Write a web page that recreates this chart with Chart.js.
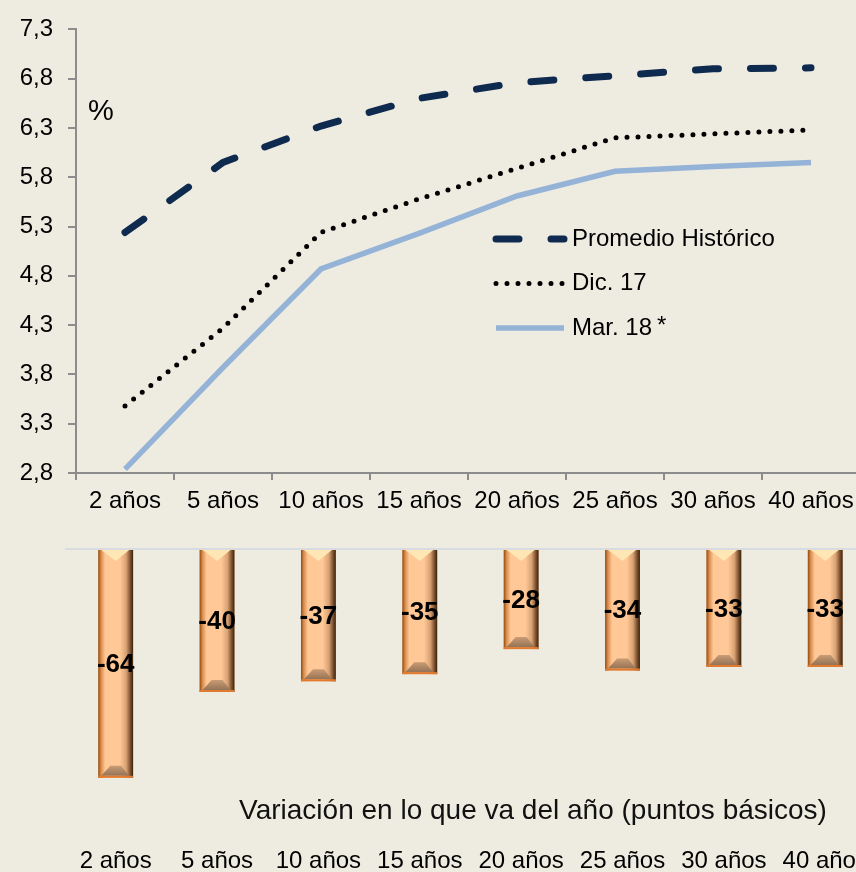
<!DOCTYPE html>
<html>
<head>
<meta charset="utf-8">
<script src="https://cdn.jsdelivr.net/npm/chart.js@4"></script>
<style>
  html, body { margin:0; padding:0; width:856px; height:872px; overflow:hidden; background:#EEECE1; position:relative;
    font-family:'Liberation Sans', Arial, sans-serif; }
  #wrap-top { position:absolute; left:0; top:0; }
  #wrap-bot { position:absolute; left:0; top:530px; }
  .pct { position:absolute; left:88px; top:96px; font-size:29px; line-height:1; color:#000; }
  .sub { position:absolute; left:0; width:1066px; top:796px; text-align:center; font-size:28px; line-height:1; color:#111; }
</style>
</head>
<body>
<div id="wrap-top"><canvas id="curva" width="862" height="530"></canvas></div>
<div class="pct">%</div>
<div id="wrap-bot"><canvas id="variacion" width="880" height="342"></canvas></div>
<div class="sub">Variación en lo que va del año (puntos básicos)</div>

<script>
// ── Data ──────────────────────────────────────────────────────────────────────
const plazos = ['2 años','5 años','10 años','15 años','20 años','25 años','30 años','40 años'];
const promedioHistorico = [5.24, 5.95, 6.32, 6.60, 6.76, 6.83, 6.90, 6.91];
const dic17  = [3.48, 4.27, 5.24, 5.58, 5.89, 6.20, 6.24, 6.28];
const mar18  = [2.84, 3.87, 4.87, 5.23, 5.61, 5.86, 5.91, 5.95];
const yTicks = [2.8, 3.3, 3.8, 4.3, 4.8, 5.3, 5.8, 6.3, 6.8, 7.3];
const variacionPb = [-64, -40, -37, -35, -28, -34, -33, -33];

Chart.defaults.font.family = "'Liberation Sans', Arial, sans-serif";
Chart.defaults.color = '#000';

const AXIS = '#8C8C8C';
const FONT = "'Liberation Sans', Arial, sans-serif";

// ── Legend drawn inside the plot ─────────────────────────────────────────────
const lineLegend = {
  id: 'lineLegend',
  afterDraw(chart, args, o) {
    const ctx = chart.ctx;
    chart.data.datasets.forEach((ds, i) => {
      const y = o.y + i * o.gap;
      ctx.save();
      ctx.strokeStyle = ds.borderColor;
      ctx.lineWidth = ds.borderWidth;
      ctx.setLineDash(ds.borderDash || []);
      ctx.lineCap = ds.borderCapStyle || 'butt';
      ctx.beginPath();
      ctx.moveTo(o.x0, y);
      ctx.lineTo(o.x1, y);
      ctx.stroke();
      ctx.setLineDash([]);
      ctx.fillStyle = '#000';
      ctx.font = '24px ' + FONT;
      ctx.textBaseline = 'middle';
      ctx.textAlign = 'left';
      ctx.fillText(ds.label, o.textX, y);
      if (ds.note) {
        const w = ctx.measureText(ds.label).width;
        ctx.textBaseline = 'alphabetic';
        ctx.fillText(ds.note, o.textX + w + 5, y + 5);
      }
      ctx.restore();
    });
  }
};

new Chart(document.getElementById('curva'), {
  type: 'line',
  data: {
    labels: plazos,
    datasets: [
      { label: 'Promedio Histórico', data: promedioHistorico, borderColor: '#0F2A4F', borderWidth: 7,
        borderDash: [23, 32], borderCapStyle: 'round', pointRadius: 0, tension: 0 },
      { label: 'Dic. 17', data: dic17, borderColor: '#000', borderWidth: 5,
        borderDash: [0, 11], borderCapStyle: 'round', pointRadius: 0, tension: 0 },
      { label: 'Mar. 18', note: '*', data: mar18, borderColor: '#95B3D7', borderWidth: 5.5,
        pointRadius: 0, tension: 0 }
    ]
  },
  options: {
    responsive: false,
    animation: false,
    devicePixelRatio: 1,
    layout: { padding: { top: 22, right: 2, left: 0, bottom: 0 } },
    plugins: {
      legend: { display: false },
      tooltip: { enabled: false },
      lineLegend: { x0: 496, x1: 564, textX: 572, y: 239, gap: 44.5 }
    },
    scales: {
      x: {
        offset: true,
        grid: { offset: true, drawOnChartArea: false, color: AXIS, lineWidth: 2, tickLength: 7 },
        border: { color: AXIS, width: 2 },
        ticks: { font: { size: 24 }, padding: 7, autoSkip: false, maxRotation: 0 },
        afterFit(s) { s.height = 57; }
      },
      y: {
        min: 2.8, max: 7.3,
        grid: { drawOnChartArea: false, color: AXIS, lineWidth: 2, tickLength: 8 },
        border: { color: AXIS, width: 2 },
        ticks: { font: { size: 24 }, padding: 15, callback: v => v.toFixed(1).replace('.', ',') },
        afterBuildTicks(s) { s.ticks = yTicks.map(v => ({ value: v })); },
        afterFit(s) { s.width = 76; }
      }
    }
  },
  plugins: [lineLegend]
});

// ── Bottom bars: bevelled look + value labels ────────────────────────────────
const bevelBars = {
  id: 'bevelBars',
  afterDatasetDraw(chart, args) {
    const ctx = chart.ctx;
    args.meta.data.forEach(bar => {
      const l = bar.x - bar.width / 2, r = bar.x + bar.width / 2;
      const t = Math.min(bar.y, bar.base), b = Math.max(bar.y, bar.base);
      const w = r - l;
      ctx.save();
      const g = ctx.createLinearGradient(l, 0, r, 0);
      g.addColorStop(0, '#8E4A12');
      g.addColorStop(0.08, '#D98C4C');
      g.addColorStop(0.2, '#FFC896');
      g.addColorStop(0.62, '#FFC896');
      g.addColorStop(0.8, '#D9A273');
      g.addColorStop(0.92, '#7A5030');
      g.addColorStop(1, '#3C2208');
      ctx.fillStyle = g;
      ctx.fillRect(l, t, w, b - t);
      // top highlight
      ctx.fillStyle = '#FFE6B5';
      ctx.beginPath();
      ctx.moveTo(l + 3, t);
      ctx.lineTo(r - 4, t);
      ctx.lineTo(bar.x, t + 11);
      ctx.closePath();
      ctx.fill();
      // bottom bevel
      const g2 = ctx.createLinearGradient(0, b - 12, 0, b);
      g2.addColorStop(0, '#C99C74');
      g2.addColorStop(1, '#8A6A50');
      ctx.fillStyle = g2;
      ctx.beginPath();
      ctx.moveTo(l + 3, b - 2);
      ctx.lineTo(l + 12, b - 12);
      ctx.lineTo(r - 12, b - 12);
      ctx.lineTo(r - 4, b - 2);
      ctx.closePath();
      ctx.fill();
      ctx.fillStyle = '#E07A30';
      ctx.fillRect(l, b - 2, w, 2);
      ctx.restore();
    });
  },
  afterDatasetsDraw(chart) {
    const ctx = chart.ctx;
    const meta = chart.getDatasetMeta(0);
    ctx.save();
    ctx.font = 'bold 26px ' + FONT;
    ctx.fillStyle = '#000';
    ctx.textAlign = 'center';
    ctx.textBaseline = 'middle';
    meta.data.forEach((bar, i) => {
      ctx.fillText(String(chart.data.datasets[0].data[i]), bar.x, (bar.y + bar.base) / 2 + 1);
    });
    ctx.restore();
  }
};

new Chart(document.getElementById('variacion'), {
  type: 'bar',
  data: {
    labels: plazos,
    datasets: [{ label: 'Variación', data: variacionPb, backgroundColor: '#FFC896',
      borderWidth: 0, categoryPercentage: 1, barPercentage: 0.344 }]
  },
  options: {
    responsive: false,
    animation: false,
    devicePixelRatio: 1,
    layout: { padding: { top: 19, right: 1, left: 0, bottom: 0 } },
    plugins: { legend: { display: false }, tooltip: { enabled: false } },
    scales: {
      x: {
        grid: { display: false, drawTicks: false },
        border: { display: false },
        ticks: { font: { size: 24 }, padding: 12, autoSkip: false, maxRotation: 0 },
        afterFit(s) { s.height = 37; }
      },
      y: {
        min: -80, max: 0,
        grid: { drawTicks: false, lineWidth: 2, color: c => c.tick && c.tick.value === 0 ? '#D8DBE0' : 'rgba(0,0,0,0)' },
        border: { display: false },
        ticks: { display: false },
        afterFit(s) { s.width = 65; }
      }
    }
  },
  plugins: [bevelBars]
});
</script>
</body>
</html>
